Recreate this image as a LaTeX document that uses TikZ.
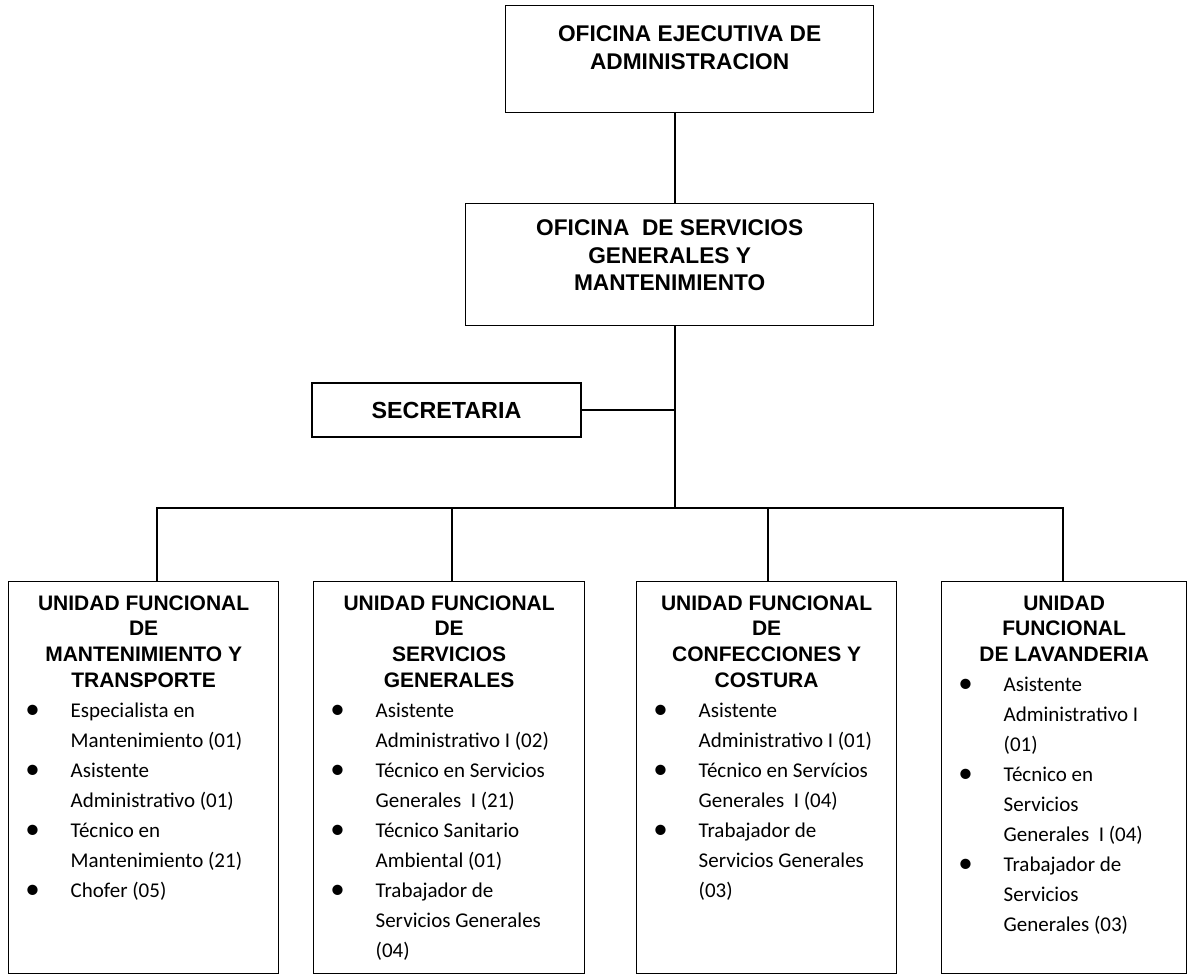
\documentclass[tikz,border=0pt]{standalone}
\usepackage{fontspec}
\setmainfont{Carlito}
\newfontfamily\hdfont{Liberation Sans}
\newcommand{\hdtext}[1]{\hdfont\bfseries\fontsize{#1}{1.22\dimexpr#1pt\relax}\selectfont}
\newcommand{\bdtext}{\normalfont\fontsize{21}{30}\selectfont\raggedright}
\newcommand{\itm}[1]{\par\hangindent=62pt\hangafter=1\noindent\makebox[62pt][l]{\makebox[48pt]{\raisebox{-1.5pt}{\fontsize{29}{30}\selectfont\textbullet}}}#1}
\begin{document}
\begin{tikzpicture}[x=1pt, y=1pt, line width=1.3pt,
		every node/.style = {shape=rectangle, draw, inner sep=0pt},
		office/.style = {anchor=north west},
		unit/.style = {anchor=north west}]
		\useasboundingbox (0,0) rectangle (1189,-976);
		\node[office] (oea) at (505,-5) {\parbox[t][107pt][t]{368pt}{\vspace*{20pt}\centering\hdtext{22.7}
			OFICINA EJECUTIVA DE\\ ADMINISTRACION\par}};
		\node[office] (sgm) at (465,-203) {\parbox[t][122pt][t]{408pt}{\vspace*{16pt}\centering\hdtext{22.7}
			OFICINA\ \ DE SERVICIOS\\ GENERALES Y\\ MANTENIMIENTO\par}};
		\node[minimum width=269pt, minimum height=54pt, font=\hdtext{23.3}] (sec) at (446.5,-410) {SECRETARIA};
		\coordinate (trunk) at (675,-508);
		% unidades funcionales
		\node[unit] (u1) at (8,-581) {\parbox[t][392pt][t]{270pt}{\vspace*{14pt}\centering\hdtext{21}
			UNIDAD FUNCIONAL\\ DE\\ MANTENIMIENTO Y\\ TRANSPORTE\par
			\bdtext
			\itm{Especialista en\newline Mantenimiento (01)}
			\itm{Asistente\newline Administrativo (01)}
			\itm{Técnico en\newline Mantenimiento (21)}
			\itm{Chofer (05)}\par}};
		\node[unit] (u2) at (313,-581) {\parbox[t][392pt][t]{271pt}{\vspace*{14pt}\centering\hdtext{21}
			UNIDAD FUNCIONAL\\ DE\\ SERVICIOS\\ GENERALES\par
			\bdtext
			\itm{Asistente\newline Administrativo I (02)}
			\itm{Técnico en Servicios\newline Generales\ \ I (21)}
			\itm{Técnico Sanitario\newline Ambiental (01)}
			\itm{Trabajador de\newline Servicios Generales\newline (04)}\par}};
		\node[unit] (u3) at (636,-581) {\parbox[t][392pt][t]{260pt}{\vspace*{14pt}\centering\hdtext{21}
			UNIDAD FUNCIONAL\\ DE\\ CONFECCIONES Y\\ COSTURA\par
			\bdtext
			\itm{Asistente\newline Administrativo I (01)}
			\itm{Técnico en Servícios\newline Generales\ \ I (04)}
			\itm{Trabajador de\newline Servicios Generales\newline (03)}\par}};
		\node[unit] (u4) at (941,-581) {\parbox[t][392pt][t]{245pt}{\vspace*{14pt}\centering\hdtext{21}
			UNIDAD\\ FUNCIONAL\\ DE LAVANDERIA\par
			\bdtext
			\itm{Asistente\newline Administrativo I\newline (01)}
			\itm{Técnico en\newline Servicios\newline Generales\ \ I (04)}
			\itm{Trabajador de\newline Servicios\newline Generales (03)}\par}};
		% lineas
		\draw (oea.south -| trunk) -- (sgm.north -| trunk);
		\draw (sgm.south -| trunk) -- (trunk);
		\draw (sec.east) -- (sec.east -| trunk);
		\foreach \u/\x in {u1/157, u2/452, u3/768, u4/1063}
			\draw (\x,0 |- \u.north) |- (trunk);
	\end{tikzpicture}
\end{document}
